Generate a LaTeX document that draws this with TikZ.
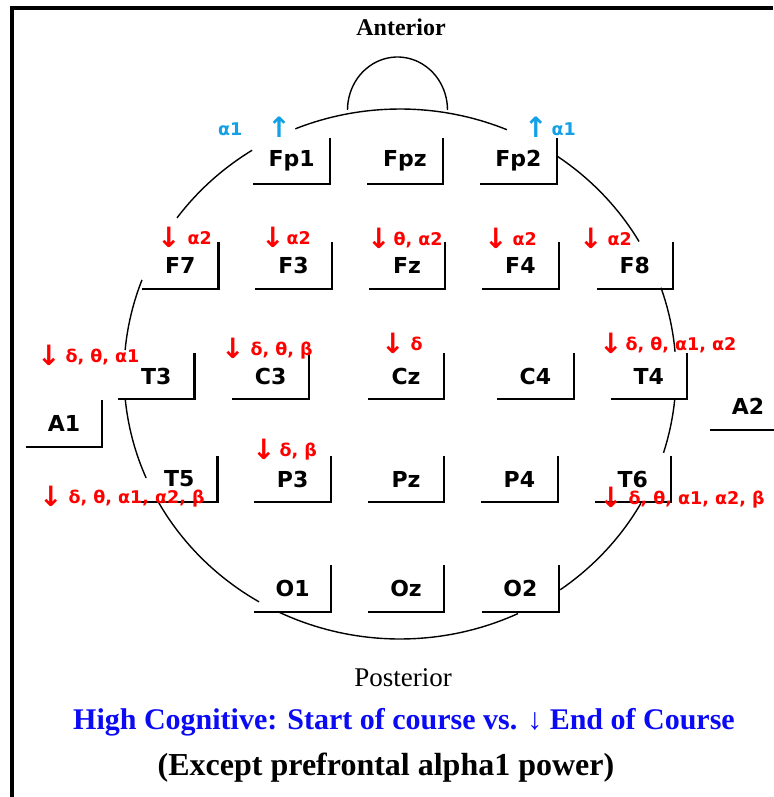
\documentclass[tikz,border=0pt]{standalone}
\usepackage{fontspec}
\setmainfont{Liberation Serif}
\newfontfamily\eegfont{DejaVu Sans}
\usetikzlibrary{positioning}
\definecolor{EEGRed}{RGB}{255,0,0}
\definecolor{EEGCyan}{RGB}{20,160,230}
\definecolor{EEGBlue}{RGB}{10,10,245}
\newcommand{\bigdown}{\raisebox{-3pt}{\fontsize{28}{28}\selectfont ↓}}
\newcommand{\bigup}{\raisebox{-2pt}{\fontsize{28}{28}\selectfont ↑}}
\tikzset{
  electrode/.style={minimum width=76pt, minimum height=46pt, inner sep=0pt, font=\eegfont\bfseries\fontsize{22}{24}\selectfont},
  bracket/.style={line width=2.2pt, draw=black},
  headline/.style={line width=1.4pt, draw=black},
  change/.style={anchor=west, inner sep=0pt, text=EEGRed, font=\eegfont\bfseries\fontsize{17.5}{20}\selectfont},
  rise/.style={change, text=EEGCyan},
  titletext/.style={inner sep=0pt, font=\bfseries\fontsize{24}{28}\selectfont}
}
\begin{document}
\begin{tikzpicture}[x=1pt, y=-1pt]
\useasboundingbox (0,0) rectangle (773,797);
\draw[line width=4pt] (12,797) -- (12,8) -- (773,8);
\foreach \a/\b in {-112.3/-67.2, -55.3/-30, -19/-4.8, 5.6/17.3, 29.2/54.5, 64.7/116.1, 120.7/150.9, 156.9/174.4, 185.2/200.8, 216.1/237.6}
  \draw[headline] plot[domain=\a:\b, samples=40] ({400+276*cos(\x)}, {374+265*sin(\x)});
\draw[headline] plot[domain=180:360, samples=40] ({397.5+50*cos(\x)}, {110+53*sin(\x)});

\node[electrode] (Fpz) at (405,161) {Fpz};
\node[electrode, left=37pt of Fpz] (Fp1) {Fp1};
\node[electrode, right=37pt of Fpz] (Fp2) {Fp2};
\node[electrode] (Fz) at (407,265.5) {Fz};
\node[electrode, left=37pt of Fz] (F3) {F3};
\node[electrode, left=37pt of F3] (F7) {F7};
\node[electrode, right=37pt of Fz] (F4) {F4};
\node[electrode, right=38pt of F4] (F8) {F8};
\node[electrode] (Cz) at (406,376) {Cz};
\node[electrode, left=59pt of Cz] (C3) {C3};
\node[electrode, left=38pt of C3] (T3) {T3};
\node[electrode, right=53pt of Cz] (C4) {C4};
\node[electrode, right=37pt of C4] (T4) {T4};
\node[electrode] (Pz) at (406,479) {Pz};
\node[electrode, left=37pt of Pz] (P3) {P3};
\node[electrode, left=37pt of P3] (T5) {T5};
\node[electrode, right=37pt of Pz] (P4) {P4};
\node[electrode, right=37pt of P4] (T6) {T6};
\node[electrode] (Oz) at (406,588.5) {Oz};
\node[electrode, left=37pt of Oz] (O1) {O1};
\node[electrode, right=38pt of Oz] (O2) {O2};
\node[electrode] (A1) at (64,423.5) {A1};
\node[electrode] (A2) at (748,406.5) {A2};
\foreach \e in {Fp1,Fpz,Fp2,F7,F3,Fz,F4,F8,T3,C3,Cz,C4,T4,T5,P3,Pz,P4,T6,O1,Oz,O2,A1,A2}
  \draw[bracket] (\e.north east) -- (\e.south east) -- (\e.south west);

\node[rise] (uFp1) at (218,127) {α1\hspace{25pt}\bigup};
\node[rise] (uFp2) at (524,127) {\bigup\hspace{4pt}α1};
\node[change] (dF7) at (157,237) {\bigdown\hspace{7pt}α2};
\node[change] (dF3) at (261,237) {\bigdown\hspace{2pt}α2};
\node[change] (dFz) at (367,238) {\bigdown\hspace{3pt}θ, α2};
\node[change] (dF4) at (484,238) {\bigdown\hspace{5pt}α2};
\node[change] (dF8) at (579,238) {\bigdown\hspace{5pt}α2};
\node[change] (dT3) at (37,355) {\bigdown\hspace{5pt}δ, θ, α1};
\node[change] (dC3) at (221,349) {\bigdown\hspace{6pt}δ, θ, β};
\node[change] (dCz) at (381,343) {\bigdown\hspace{6pt}δ};
\node[change] (dT4) at (599,343) {\bigdown\hspace{3pt}δ, θ, α1, α2};
\node[change] (dP3) at (252,450) {\bigdown\hspace{4pt}δ, β};
\node[change] (dT5) at (39,497) {\bigdown\hspace{6pt}δ, θ, α1, α2, β};
\node[change] (dT6) at (599,498) {\bigdown\hspace{6pt}δ, θ, α1, α2, β};

\node[titletext] (ant) at (401,27) {Anterior};
\node[inner sep=0pt, font=\fontsize{27}{30}\selectfont] (post) at (403,678) {Posterior};
\node[titletext, text=EEGBlue, font=\bfseries\fontsize{30}{34}\selectfont] (cmp) at (404,722) {High Cognitive: Start of course vs. ↓ End of Course};
\node[titletext, font=\bfseries\fontsize{32}{36}\selectfont] (exc) at (386,768) {(Except prefrontal alpha1 power)};
\end{tikzpicture}
\end{document}
